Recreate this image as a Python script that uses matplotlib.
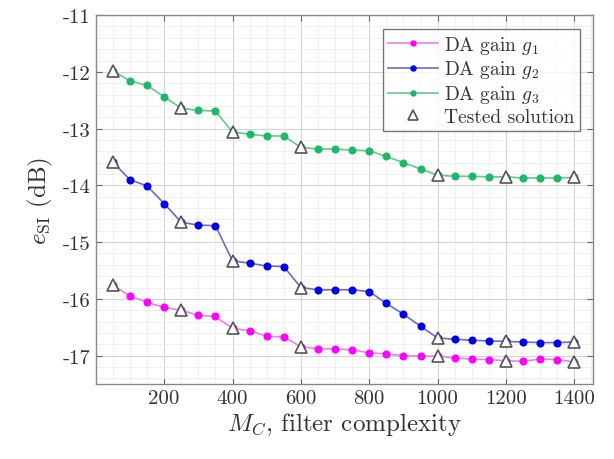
import numpy as np
import matplotlib
matplotlib.use('Agg')
import matplotlib.pyplot as plt
from matplotlib.ticker import FuncFormatter, MultipleLocator

# Valores
mc = np.arange(50, 1401, 50)
g1 = [-15.76, -15.95, -16.06, -16.15, -16.20, -16.29, -16.31, -16.52, -16.56, -16.66,
      -16.67, -16.84, -16.88, -16.88, -16.90, -16.95, -16.97, -17.00, -17.01, -17.01,
      -17.04, -17.06, -17.07, -17.09, -17.10, -17.06, -17.07, -17.11]
g2 = [-13.59, -13.90, -14.01, -14.32, -14.65, -14.70, -14.71, -15.33, -15.37, -15.42,
      -15.43, -15.80, -15.84, -15.84, -15.84, -15.87, -16.08, -16.27, -16.48, -16.69,
      -16.71, -16.73, -16.74, -16.75, -16.76, -16.77, -16.77, -16.76]
g3 = [-11.98, -12.16, -12.24, -12.44, -12.64, -12.68, -12.69, -13.06, -13.10, -13.13,
      -13.13, -13.33, -13.36, -13.36, -13.38, -13.39, -13.49, -13.60, -13.71, -13.82,
      -13.84, -13.84, -13.85, -13.85, -13.87, -13.87, -13.87, -13.86]
tested = [50, 250, 400, 600, 1000, 1200, 1400]

plt.rcParams['font.family'] = ['cmr10', 'DejaVu Serif']
plt.rcParams['mathtext.fontset'] = 'cm'
plt.rcParams['axes.unicode_minus'] = False

fig = plt.figure(figsize=(6.14, 4.6), dpi=100)
ax = fig.add_axes([0.156, 0.163, 0.81, 0.802])

series = [
    (g1, 'DA gain $g_1$', '#f0f', '#ea80ea'),
    (g2, 'DA gain $g_2$', '#0000e8', '#6a6ad0'),
    (g3, 'DA gain $g_3$', '#1db86a', '#62c990'),
]
idx = [list(mc).index(t) for t in tested]
for vals, lab, mcol, lcol in series:
    ax.plot(mc, vals, '-o', color=lcol, lw=1.2, ms=4.8,
            mfc=mcol, mec=mcol, label=lab, zorder=3)

tri_x = np.concatenate([np.array(tested)] * 3)
tri_y = np.concatenate([np.array(s[0])[idx] for s in series])
ax.plot(tri_x, tri_y, '^', ls='none', ms=9, mfc='white', mec='#555555',
        mew=1.2, label='Tested solution', zorder=4)

ax.set_xlim(0, 1455)
ax.set_ylim(-17.5, -11)
ax.set_xticks([200, 400, 600, 800, 1000, 1200, 1400])
ax.set_yticks(np.arange(-17, -10, 1))
ax.yaxis.set_major_formatter(FuncFormatter(lambda v, p: '%d' % v))
ax.xaxis.set_minor_locator(MultipleLocator(50))
ax.yaxis.set_minor_locator(MultipleLocator(0.2))
ax.grid(True, which='major', color='#d4d4d4', lw=0.8)
ax.grid(True, which='minor', color='#eeeeee', lw=0.6)
ax.set_axisbelow(True)
ax.tick_params(which='both', direction='in', top=True, right=True,
               colors='#666666', labelcolor='#333333', labelsize=15)
ax.tick_params(which='major', length=4)
ax.tick_params(which='minor', length=0)
for s in ax.spines.values():
    s.set_color('#888888')
    s.set_linewidth(1.0)

ax.set_xlabel('$M_C$, filter complexity', fontsize=18, color='#333333', labelpad=2)
ax.set_ylabel(r'$e_{\mathrm{SI}}$ (dB)', fontsize=18, color='#333333', labelpad=6)

leg = ax.legend(loc='upper right', fontsize=14, frameon=True, fancybox=False,
                edgecolor='#555555', borderpad=0.25, labelspacing=0.15,
                handlelength=2.6, handletextpad=0.3, borderaxespad=0.7,
                markerscale=0.75)
leg.get_frame().set_linewidth(1.0)
for t in leg.get_texts():
    t.set_color('#333333')

fig.savefig('out.png', dpi=100)
